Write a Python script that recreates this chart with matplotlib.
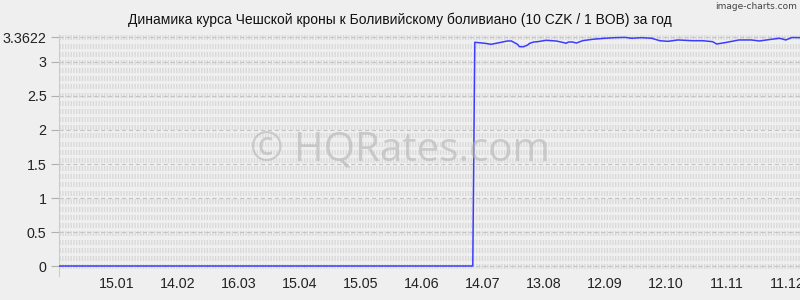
import matplotlib.pyplot as plt
import matplotlib.dates as mdates
import pandas as pd

plt.rcParams['lines.scale_dashes'] = False

# rate data (10 CZK / 1 BOB)
dates = ['2022-12-17', '2023-07-09', '2023-07-10', '2023-07-15', '2023-07-18',
         '2023-07-23', '2023-07-26', '2023-07-28', '2023-07-31', '2023-08-01',
         '2023-08-03', '2023-08-05', '2023-08-06', '2023-08-08', '2023-08-10',
         '2023-08-14', '2023-08-19', '2023-08-22', '2023-08-24', '2023-08-25',
         '2023-08-27', '2023-08-29', '2023-09-01', '2023-09-06', '2023-09-12',
         '2023-09-17', '2023-09-22', '2023-09-25', '2023-09-30', '2023-10-05',
         '2023-10-09', '2023-10-13', '2023-10-18', '2023-10-25', '2023-10-30',
         '2023-11-04', '2023-11-06', '2023-11-10', '2023-11-17', '2023-11-23',
         '2023-11-27', '2023-12-03', '2023-12-07', '2023-12-10', '2023-12-13',
         '2023-12-17']
values = [0, 0, 3.290, 3.275, 3.260,
          3.290, 3.309, 3.309, 3.260, 3.225,
          3.225, 3.250, 3.275, 3.294, 3.299,
          3.319, 3.309, 3.290, 3.275, 3.294,
          3.294, 3.279, 3.313, 3.334, 3.349,
          3.358, 3.362, 3.349, 3.358, 3.349,
          3.313, 3.304, 3.324, 3.313, 3.313,
          3.299, 3.265, 3.284, 3.324, 3.324,
          3.309, 3.334, 3.349, 3.324, 3.360,
          3.358]

yticks = [0, 0.5, 1, 1.5, 2, 2.5, 3, 3.3622]
ytick_labels = ['0', '0.5', '1', '1.5', '2', '2.5', '3', '3.3622']
xtick_dates = ['2023-01-15', '2023-02-14', '2023-03-16', '2023-04-15', '2023-05-15',
               '2023-06-14', '2023-07-14', '2023-08-13', '2023-09-12', '2023-10-12',
               '2023-11-11', '2023-12-11']
xtick_labels = ['15.01', '14.02', '16.03', '15.04', '15.05', '14.06', '14.07',
                '13.08', '12.09', '12.10', '11.11', '11.12']

bg = '#efefef'
fig = plt.figure(figsize=(8, 3), dpi=100, facecolor=bg)
ax = fig.add_axes([59 / 800, 24 / 300, 741 / 800, 241 / 300])
ax.set_facecolor(bg)

x = pd.to_datetime(dates)
ax.set_xlim(pd.Timestamp('2022-12-17 10:00'), pd.Timestamp('2023-12-17'))
ax.set_ylim(-0.147, 3.397)

# dense striped background grid
top = 3.3622
for k in range(29):
    ax.axhline(top * k / 28, color='#d8d8d8', lw=3.6, dashes=(0.9, 1.1),
               solid_capstyle='butt', dash_capstyle='butt', zorder=0)
for t in yticks:
    ax.axhline(t, color='#c4c4c4', lw=0.8, dashes=(3, 2), zorder=1)
ax.axhline(-0.14, color='#cfcfcf', lw=0.8, dashes=(1, 2), zorder=1)

ax.plot(x, values, color='#3c3cff', lw=1.1, zorder=3)

ax.set_yticks(yticks)
ax.set_yticklabels(ytick_labels)
ax.set_xticks(pd.to_datetime(xtick_dates))
ax.set_xticklabels(xtick_labels)
ax.tick_params(axis='y', length=6, width=0.8, color='#b0b0b0', pad=3,
               labelsize=10.3, labelcolor='#222222')
ax.tick_params(axis='x', length=0, pad=1, labelsize=10.3, labelcolor='#222222')
for lab in ax.get_xticklabels() + ax.get_yticklabels():
    lab.set_fontfamily('Liberation Sans')

for s in ['top', 'right', 'bottom']:
    ax.spines[s].set_visible(False)
ax.spines['left'].set_color('#cccccc')
ax.spines['left'].set_linewidth(0.8)

fig.text(0.5, 1 - 20 / 300,
         'Динамика курса Чешской кроны к Боливийскому боливиано (10 CZK / 1 BOB) за год',
         ha='center', va='center', fontsize=10, family='Liberation Sans', color='#111111')
fig.text(797 / 800, 1 - 6.5 / 300, 'image-charts.com', ha='right', va='center',
         fontsize=6.5, color='#444444', family='DejaVu Sans')
fig.text(400 / 800, 1 - 150 / 300, '© HQRates.com', ha='center', va='center',
         fontsize=29, color='#b4b4b4', alpha=0.6, family='Open Sans', zorder=2)

fig.savefig('out.png', dpi=100, facecolor=bg)
